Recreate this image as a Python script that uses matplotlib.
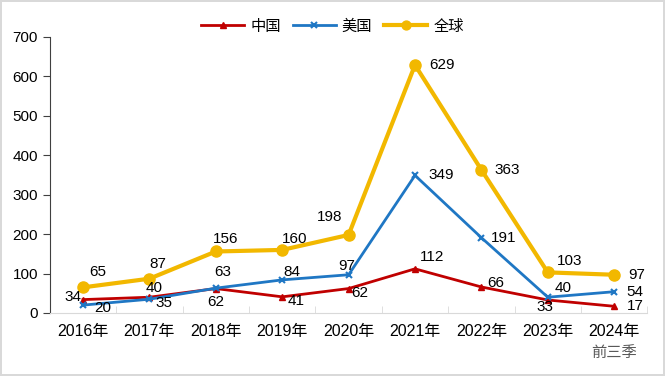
import matplotlib
matplotlib.use("Agg")
import matplotlib.pyplot as plt
import numpy as np

plt.rcParams['font.family'] = ['Liberation Sans', 'Noto Sans CJK SC']

years = ["2016年", "2017年", "2018年", "2019年", "2020年", "2021年", "2022年", "2023年", "2024年"]
last_note = "前三季"
china = [34, 40, 62, 41, 62, 112, 66, 33, 17]
usa = [20, 35, 63, 84, 97, 349, 191, 40, 54]
world = [65, 87, 156, 160, 198, 629, 363, 103, 97]

# label offsets in pixels (dx, dy)
off_world = [(15, 15), (8, 15), (10, 12), (12, 11), (-19, 18), (27, 0), (26, 0), (22, 11), (22, 0)]
off_usa = [(20, -3), (15, -4), (7, 16), (10, 8), (-2, 9), (26, 0), (22, 0), (15, 9), (21, 0)]
off_china = [(-10, 3), (5, 9), (0, -13), (14, -4), (11, -4), (17, 12), (14, 4), (-3, -7), (21, 0)]

c_red = "#C00000"
c_blue = "#1F77C4"
c_gold = "#F2B800"

fig = plt.figure(figsize=(6.65, 3.76), dpi=100)
fig.patch.set_edgecolor("#D9D9D9")
fig.patch.set_linewidth(1.5)
ax = fig.add_axes([49.8 / 665, 1 - 313 / 376, 597.6 / 665, 276 / 376])

x = np.arange(len(years))
ax.plot(x, china, color=c_red, lw=2, marker="^", ms=5, label="中国", zorder=3)
ax.plot(x, usa, color=c_blue, lw=2, marker="x", ms=5, mew=1.5, label="美国", zorder=3)
ax.plot(x, world, color=c_gold, lw=3, marker="o", ms=8, label="全球", zorder=2)

for vals, offs in [(world, off_world), (usa, off_usa), (china, off_china)]:
    for i, v in enumerate(vals):
        ax.annotate(str(v), (x[i], v), xytext=offs[i], textcoords="offset pixels",
                    ha="center", va="center", fontsize=11, color="#000000")

ax.set_xlim(-0.5, len(years) - 0.5)
ax.set_ylim(0, 700)
ax.set_yticks(range(0, 701, 100))
ax.set_xticks(x)
ax.set_xticklabels(years, fontsize=11.5)
ax.set_xticks(np.arange(-0.5, len(years), 1), minor=True)
ax.tick_params(axis="x", which="major", length=0, pad=8)
ax.tick_params(axis="x", which="minor", direction="in", length=5, color="#D9D9D9")
ax.tick_params(axis="y", labelsize=11, length=5, color="#404040")

ax.annotate(last_note, (x[-1], 0), xytext=(0, -40), textcoords="offset pixels",
            ha="center", va="center", fontsize=11, color="#595959")

for s in ["top", "right"]:
    ax.spines[s].set_visible(False)
ax.spines["bottom"].set_color("#D9D9D9")
ax.spines["left"].set_color("#404040")

fig.legend(loc="upper center", bbox_to_anchor=(0.5, 0.985), ncol=3, frameon=False,
           fontsize=11, handlelength=2.8, columnspacing=0.8, handletextpad=0.4,
           markerscale=0.8)

fig.savefig("out.png", dpi=100, edgecolor=fig.get_edgecolor())
